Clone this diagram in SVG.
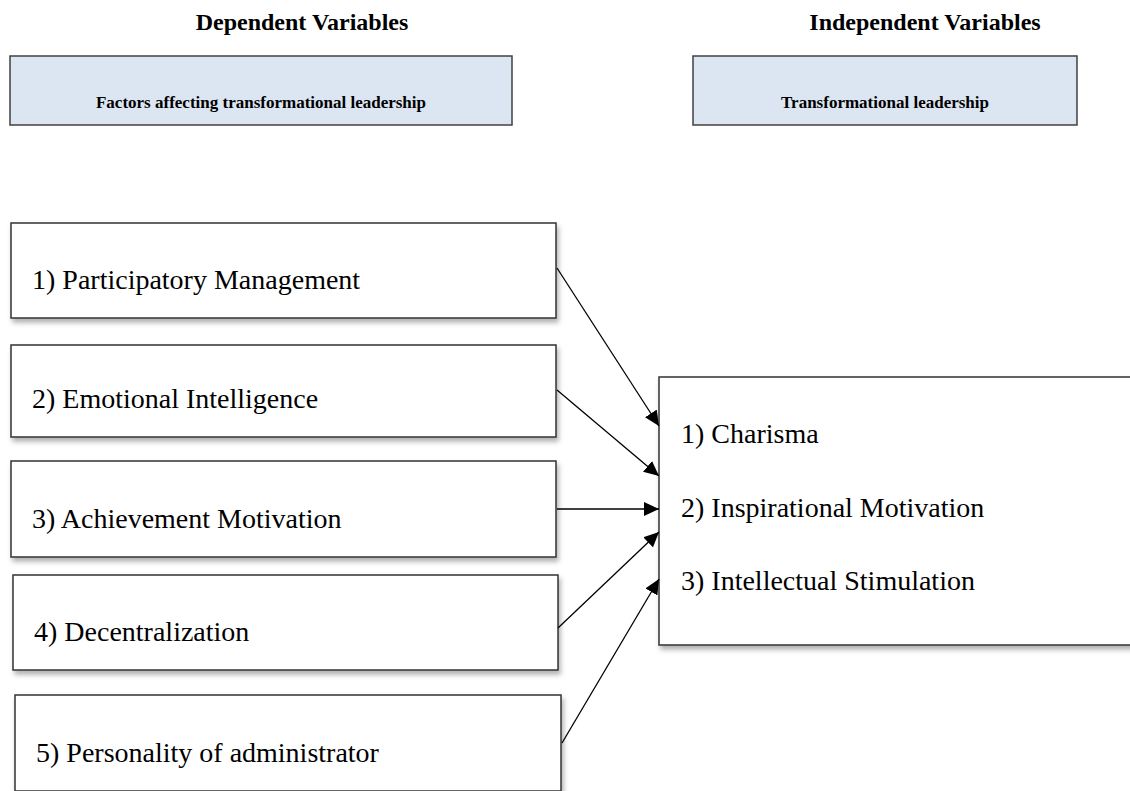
<svg xmlns="http://www.w3.org/2000/svg" width="1130" height="791" viewBox="0 0 1130 791">
<style>
.title{font-family:"Liberation Serif","Times New Roman",serif;font-weight:bold;font-size:24px;fill:#000;text-anchor:middle}
.hdr{font-family:"Liberation Serif","Times New Roman",serif;font-weight:bold;font-size:17px;fill:#000;text-anchor:middle}
.lbl{font-family:"Liberation Serif","Times New Roman",serif;font-size:28px;fill:#000}
.hbox{fill:#dce6f2;stroke:#404040;stroke-width:1.5}
.box{fill:#fff;stroke:#333;stroke-width:1.5;filter:url(#sh)}
.conn{stroke:#000;stroke-width:1.3;fill:none;marker-end:url(#arr)}
</style>
<defs>
<filter id="sh" x="-5%" y="-10%" width="115%" height="130%">
<feDropShadow dx="2" dy="4" stdDeviation="2.5" flood-color="#000" flood-opacity="0.3"/>
</filter>
<marker id="arr" markerUnits="userSpaceOnUse" markerWidth="16" markerHeight="14" refX="15" refY="7" orient="auto">
<path d="M0,0 L15,7 L0,14 z" fill="#000"/>
</marker>
</defs>
<rect width="1130" height="791" fill="#fff"/>
<g id="title-dependent"><text class="title" x="302" y="30">Dependent Variables</text></g>
<g id="title-independent"><text class="title" x="925" y="30">Independent Variables</text></g>
<g id="hdr-factors">
<rect class="hbox" x="10" y="56" width="502" height="69"/>
<text class="hdr" x="261" y="108">Factors affecting transformational leadership</text>
</g>
<g id="hdr-tl">
<rect class="hbox" x="693" y="56" width="384" height="69"/>
<text class="hdr" x="885" y="108">Transformational leadership</text>
</g>
<g id="n1">
<rect class="box" x="11" y="223" width="545" height="95"/>
<text class="lbl" x="32" y="289">1) Participatory Management</text>
</g>
<g id="n2">
<rect class="box" x="11" y="345" width="545" height="92"/>
<text class="lbl" x="32" y="408">2) Emotional Intelligence</text>
</g>
<g id="n3">
<rect class="box" x="11" y="461" width="545" height="96"/>
<text class="lbl" x="32" y="528">3) Achievement Motivation</text>
</g>
<g id="n4">
<rect class="box" x="13" y="575" width="545" height="95"/>
<text class="lbl" x="34" y="641">4) Decentralization</text>
</g>
<g id="n5">
<rect class="box" x="15" y="695" width="546" height="96"/>
<text class="lbl" x="36" y="762">5) Personality of administrator</text>
</g>
<g id="target">
<rect class="box" x="659" y="377" width="490" height="268"/>
<text class="lbl" x="681" y="443">1) Charisma</text>
<text class="lbl" x="681" y="517">2) Inspirational Motivation</text>
<text class="lbl" x="681" y="590">3) Intellectual Stimulation</text>
</g>
<g id="connectors">
<path class="conn" d="M557,268 L659,426"/>
<path class="conn" d="M557,390 L659,476"/>
<path class="conn" d="M557,509 L659,509"/>
<path class="conn" d="M558,628 L659,532"/>
<path class="conn" d="M562,743 L659,579"/>
</g>
</svg>
